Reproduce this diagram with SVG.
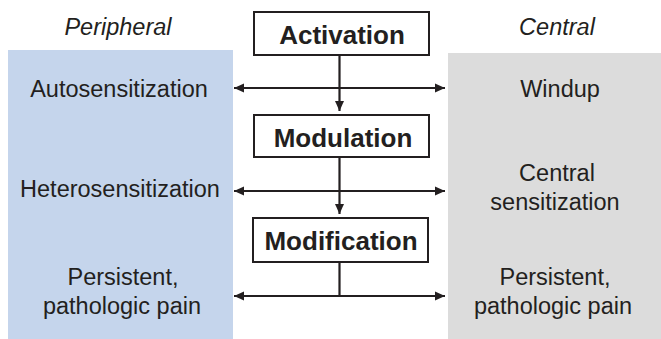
<svg xmlns="http://www.w3.org/2000/svg" width="661" height="339" viewBox="0 0 661 339">
<defs>
<marker id="ah" viewBox="0 0 10 10" refX="10" refY="5" markerWidth="10" markerHeight="10" markerUnits="userSpaceOnUse" orient="auto-start-reverse">
<path d="M0,0.5 L10,5 L0,9.5 Z" fill="#231f20"/>
</marker>
<style>
.t{font-family:"Liberation Sans",Arial,sans-serif;font-size:23.5px;fill:#231f20;text-anchor:middle}
.i{font-style:italic}
.b{font-weight:bold;font-size:26px}
.box{fill:#fff;stroke:#231f20;stroke-width:2}
.ln{stroke:#231f20;stroke-width:2.2;fill:none}
</style>
</defs>
<rect id="bg" width="661" height="339" fill="#fff"/>
<g id="peripheral">
<rect x="8" y="50" width="225" height="289" fill="#c5d5ec"/>
<text class="t i" x="118" y="35">Peripheral</text>
<text class="t" x="119" y="97">Autosensitization</text>
<text class="t" x="120" y="197">Heterosensitization</text>
<text class="t" x="123" y="285">Persistent,</text>
<text class="t" x="122" y="314">pathologic pain</text>
</g>
<g id="central">
<rect x="448" y="53" width="213" height="286" fill="#dcdcdc"/>
<text class="t i" x="557" y="35">Central</text>
<text class="t" x="560" y="97">Windup</text>
<text class="t" x="557" y="181">Central</text>
<text class="t" x="555" y="210">sensitization</text>
<text class="t" x="555" y="285">Persistent,</text>
<text class="t" x="553" y="314">pathologic pain</text>
</g>
<g id="activation">
<rect class="box" x="254" y="12" width="175" height="43"/>
<text class="t b" x="342" y="44">Activation</text>
</g>
<g id="modulation">
<rect class="box" x="254" y="115" width="175" height="42"/>
<text class="t b" x="343" y="147">Modulation</text>
</g>
<g id="modification">
<rect class="box" x="253" y="218" width="175" height="44"/>
<text class="t b" x="341" y="250">Modification</text>
</g>
<g id="connectors">
<line class="ln" x1="234" y1="88" x2="445" y2="88" marker-start="url(#ah)" marker-end="url(#ah)"/>
<line class="ln" x1="234" y1="191" x2="445" y2="191" marker-start="url(#ah)" marker-end="url(#ah)"/>
<line class="ln" x1="234" y1="296" x2="445" y2="296" marker-start="url(#ah)" marker-end="url(#ah)"/>
<line class="ln" x1="339.5" y1="55" x2="339.5" y2="111" marker-end="url(#ah)"/>
<line class="ln" x1="339.5" y1="157" x2="339.5" y2="214" marker-end="url(#ah)"/>
<line class="ln" x1="339.5" y1="262" x2="339.5" y2="296"/>
</g>
</svg>
